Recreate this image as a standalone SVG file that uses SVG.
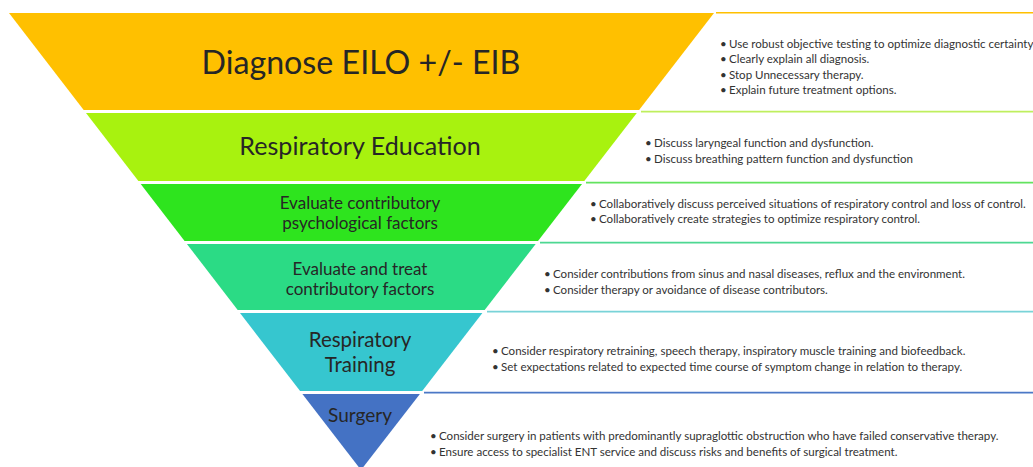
<svg xmlns="http://www.w3.org/2000/svg" width="1033" height="467" viewBox="0 0 1033 467">
<style>
.title{font-family:Lato,"Liberation Sans",sans-serif;fill:#262626;text-anchor:middle}
.b{font-family:Lato,"Liberation Sans",sans-serif;font-size:11.55px;fill:#333333}
.rule{stroke-width:1.6;fill:none}
</style>
<rect width="1033" height="467" fill="#ffffff"/>
<g id="rules">
<line class="rule" x1="716" y1="12.8" x2="1033" y2="12.8" stroke="#FFC000"/>
<line class="rule" x1="641" y1="111.6" x2="1033" y2="111.6" stroke="#BFEF5E"/>
<line class="rule" x1="586" y1="182.6" x2="1033" y2="182.6" stroke="#63E35F"/>
<line class="rule" x1="540" y1="242.6" x2="1033" y2="242.6" stroke="#4DD892"/>
<line class="rule" x1="487" y1="311.6" x2="1033" y2="311.6" stroke="#79D3D8"/>
<line class="rule" x1="424" y1="392.6" x2="1033" y2="392.6" stroke="#4B78C6"/>
</g>
<g id="diagnose">
<polygon points="9,13 714,13 639.1,110 83.7,110" fill="#FFC000"/>
<text class="title" x="361" y="74" font-size="32.2">Diagnose EILO +/- EIB</text>
<text class="b" x="720" y="47.5">•</text><text class="b" x="729" y="47.5">Use robust objective testing to optimize diagnostic certainty</text>
<text class="b" x="720" y="63">•</text><text class="b" x="729" y="63">Clearly explain all diagnosis.</text>
<text class="b" x="720" y="78.5">•</text><text class="b" x="729" y="78.5">Stop Unnecessary therapy.</text>
<text class="b" x="720" y="94">•</text><text class="b" x="729" y="94">Explain future treatment options.</text>
</g>
<g id="education">
<polygon points="86,113 636.8,113 584.3,181 138.4,181" fill="#A8F20F"/>
<text class="title" x="360" y="155" font-size="25.1">Respiratory Education</text>
<text class="b" x="645" y="146.5">•</text><text class="b" x="654" y="146.5">Discuss laryngeal function and dysfunction.</text>
<text class="b" x="645" y="162.5">•</text><text class="b" x="654" y="162.5">Discuss breathing pattern function and dysfunction</text>
</g>
<g id="psychological">
<polygon points="140.7,184 582,184 538,241 184.6,241" fill="#2EE41E"/>
<text class="title" x="360" y="209" font-size="17">Evaluate contributory</text>
<text class="title" x="360" y="228.5" font-size="17">psychological factors</text>
<text class="b" x="590" y="207.5">•</text><text class="b" x="599" y="207.5">Collaboratively discuss perceived situations of respiratory control and loss of control.</text>
<text class="b" x="590" y="223">•</text><text class="b" x="599" y="223">Collaboratively create strategies to optimize respiratory control.</text>
</g>
<g id="contributory">
<polygon points="186.9,244 535.7,244 484.7,310 237.7,310" fill="#2BDB85"/>
<text class="title" x="360" y="274.5" font-size="17">Evaluate and treat</text>
<text class="title" x="360" y="294.5" font-size="17">contributory factors</text>
<text class="b" x="544" y="277.5">•</text><text class="b" x="553" y="277.5">Consider contributions from sinus and nasal diseases, reflux and the environment.</text>
<text class="b" x="544" y="294">•</text><text class="b" x="553" y="294">Consider therapy or avoidance of disease contributors.</text>
</g>
<g id="training">
<polygon points="240,313 482.4,313 422.2,391 300.1,391" fill="#36C6CF"/>
<text class="title" x="360" y="347" font-size="20.5">Respiratory</text>
<text class="title" x="360" y="372" font-size="20.5">Training</text>
<text class="b" x="492" y="354.5">•</text><text class="b" x="501" y="354.5">Consider respiratory retraining, speech therapy, inspiratory muscle training and biofeedback.</text>
<text class="b" x="492" y="371">•</text><text class="b" x="501" y="371">Set expectations related to expected time course of symptom change in relation to therapy.</text>
</g>
<g id="surgery">
<polygon points="302.4,394 419.9,394 361,470" fill="#4472C4"/>
<text class="title" x="360" y="421.5" font-size="19">Surgery</text>
<text class="b" x="430" y="439.5">•</text><text class="b" x="439" y="439.5">Consider surgery in patients with predominantly supraglottic obstruction who have failed conservative therapy.</text>
<text class="b" x="430" y="455.5">•</text><text class="b" x="439" y="455.5">Ensure access to specialist ENT service and discuss risks and benefits of surgical treatment.</text>
</g>
</svg>
